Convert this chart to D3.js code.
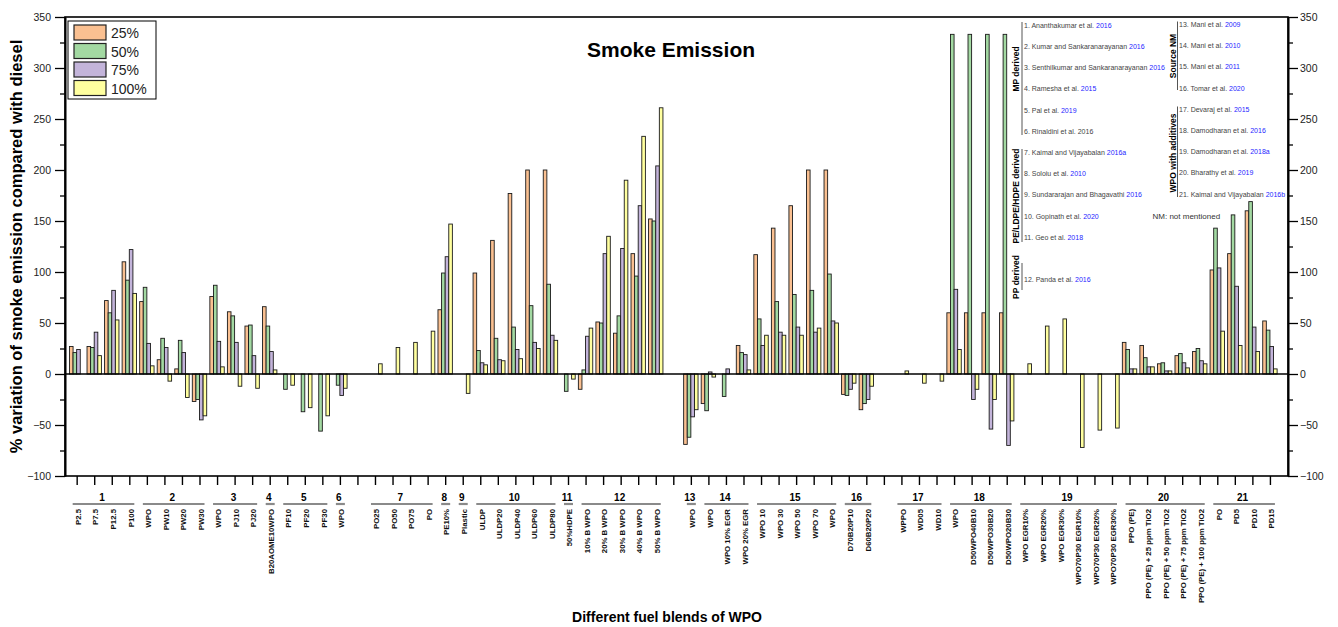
<!DOCTYPE html>
<html>
<head>
<meta charset="utf-8">
<script src="https://cdn.jsdelivr.net/npm/d3@7"></script>
<style>
  body { margin: 0; background: #fff; }
  text { font-family: Arial, "Liberation Sans", sans-serif; }
</style>
</head>
<body>
<script>
// categories along the x axis ("" = empty slot)
const categories = [
  "P2.5", "P7.5", "P12.5", "P100",
  "WPO", "PW10", "PW20", "PW30",
  "WPO", "PJ10", "PJ20",
  "B20AOME10WPO",
  "PF10", "PF20", "PF30",
  "WPO", "",
  "PO25", "PO50", "PO75", "PO",
  "PE10%", "Plastic",
  "ULDP", "ULDP20", "ULDP40", "ULDP60", "ULDP80",
  "50%HDPE",
  "10% B WPO", "20% B WPO", "30% B WPO", "40% B WPO", "50% B WPO", "",
  "WPO",
  "WPO", "WPO 10% EGR", "WPO 20% EGR",
  "WPO 10", "WPO 30", "WPO 50", "WPO 70", "WPO",
  "D70B20P10", "D60B20P20", "",
  "WPPO", "WD05", "WD10",
  "WPO", "D50WPO40B10", "D50WPO30B20", "D50WPO20B30",
  "WPO EGR10%", "WPO EGR20%", "WPO EGR30%", "WPO70P30 EGR10%", "WPO70P30 EGR20%", "WPO70P30 EGR30%",
  "PPO (PE)", "PPO (PE) + 25 ppm  TiO2", "PPO (PE) + 50 ppm  TiO2", "PPO (PE) + 75 ppm  TiO2", "PPO (PE) + 100 ppm  TiO2",
  "PO", "PD5", "PD10", "PD15"
];

// study groups under the axis: number, first and last category index
const groupNames = ["1","2","3","4","5","6","7","8","9","10","11","12","13","14","15","16","17","18","19","20","21"];
const groupStart = [0, 4, 8, 11, 12, 15, 17, 21, 22, 23, 28, 29, 35, 36, 39, 44, 47, 50, 54, 60, 65];
const groupEnd   = [3, 7, 10, 11, 14, 15, 20, 21, 22, 27, 28, 33, 35, 38, 43, 45, 49, 53, 59, 64, 68];

const seriesNames = ["25%", "50%", "75%", "100%"];
const seriesColors = ["#FAC091", "#A3D9A2", "#C3B4DA", "#FFFF9F"];

const v25 = [27, 27, 72, 110, 71, 14, 5, -27, 76, 61, 47, 66, null, null, null, null, null,
  null, null, null, null, 63, null, 99, 131, 177, 200, 200, null, -15, 51, 40, 118, 152, null,
  -69, -29, null, 28, 117, 143, 165, 200, 200, -20, -35, null, null, null, null,
  60, 60, 60, 60, null, null, null, null, null, null, 31, 28, 10, 18, 22, 102, 118, 160, 52];
const v50 = [21, 26, 60, 92, 85, 35, 33, -25, 87, 57, 48, 47, -15, -37, -56, -11, null,
  null, null, null, null, 99, null, 23, 35, 46, 67, 88, -17, 4, 50, 57, 96, 150, null,
  -62, -36, -22, 21, 54, 71, 78, 82, 98, -21, -29, null, null, null, null,
  333, 333, 333, 333, null, null, null, null, null, null, 24, 16, 11, 20, 25, 143, 156, 169, 43];
const v75 = [24, 41, 82, 122, 30, 26, 21, -45, 32, 31, 18, 22, null, null, null, -21, null,
  null, null, null, null, 115, null, 11, 14, 24, 31, 38, null, 37, 118, 123, 165, 204, null,
  -42, 2, 5, 19, 28, 41, 46, 41, 52, -15, -25, null, null, null, null,
  83, -25, -54, -70, null, null, null, null, null, null, 5, 7, 3, 11, 13, 104, 86, 46, 27];
const v100 = [null, 18, 53, 79, 8, -7, -23, -41, 7, -12, -14, 4, -11, -33, -41, -14, null,
  10, 26, 31, 42, 147, -19, 9, 13, 15, 25, 33, -5, 45, 135, 190, 233, 261, null,
  -35, -3, null, 4, 38, 38, 38, 45, 50, -9, -12, null, 3, -9, -7,
  24, -15, -25, -46, 10, 47, 54, -72, -55, -53, 5, 7, 3, 6, 10, 42, 28, 22, 5];
const seriesValues = [v25, v50, v75, v100];

const yTicks = [-100, -50, 0, 50, 100, 150, 200, 250, 300, 350];

// reference notes in the upper right corner
const refAuthors = [
  "1. Ananthakumar et al. ", "2. Kumar and Sankaranarayanan ", "3. Senthilkumar and Sankaranarayanan ",
  "4. Ramesha et al. ", "5. Pal et al. ", "6. Rinaldini et al. 2016", "7. Kaimal and Vijayabalan ",
  "8. Soloiu et al. ", "9. Sundararajan and Bhagavathi ", "10. Gopinath et al. ", "11. Geo et al. ",
  "12. Panda et al. ", "13. Mani et al. ", "14. Mani et al. ", "15. Mani et al. ", "16. Tomar et al. ",
  "17. Devaraj et al. ", "18. Damodharan et al. ", "19. Damodharan et al. ", "20. Bharathy et al. ",
  "21. Kaimal and Vijayabalan "
];
const refYears = ["2016", "2016", "2016", "2015", "2019", "", "2016a", "2010", "2016", "2020", "2018",
  "2016", "2009", "2010", "2011", "2020", "2015", "2016", "2018a", "2019", "2016b"];

const width = 1338, height = 627;
const margin = { left: 65, right: 50, top: 17, bottom: 151 };

const svg = d3.select("body").append("svg")
  .attr("width", width)
  .attr("height", height);

const x = d3.scaleLinear()
  .domain([-0.665, 69.03])
  .range([margin.left, width - margin.right]);

const y = d3.scaleLinear()
  .domain([-100, 350])
  .range([height - margin.bottom, margin.top]);

// sub slots for the four blend ratios
const sub = d3.scaleBand()
  .domain(seriesNames)
  .range([-0.41, 0.41]);

// bars
seriesNames.forEach((s, si) => {
  const vals = seriesValues[si];
  const pts = vals.map((v, i) => ({ i, v })).filter(d => d.v !== null);
  svg.append("g").selectAll("rect")
    .data(pts)
    .enter()
    .append("rect")
    .attr("x", d => x(d.i + sub(s)))
    .attr("width", d => x(d.i + sub(s) + sub.bandwidth()) - x(d.i + sub(s)))
    .attr("y", d => y(Math.max(0, d.v)))
    .attr("height", d => Math.abs(y(d.v) - y(0)))
    .attr("fill", seriesColors[si])
    .attr("stroke", "#1a1a1a")
    .attr("stroke-width", 0.9);
});

// zero line
svg.append("line")
  .attr("x1", x.range()[0]).attr("x2", x.range()[1])
  .attr("y1", y(0)).attr("y2", y(0))
  .attr("stroke", "#000").attr("stroke-width", 1.6);

// frame
svg.append("rect")
  .attr("x", x.range()[0]).attr("y", y(350))
  .attr("width", x.range()[1] - x.range()[0])
  .attr("height", y(-100) - y(350))
  .attr("fill", "none").attr("stroke", "#000").attr("stroke-width", 1.6);

// y axes
const axisFont = g => g.selectAll("text").attr("font-size", "10.5px").attr("fill", "#222");
svg.append("g")
  .attr("transform", `translate(${x.range()[0]},0)`)
  .call(d3.axisLeft(y).tickValues(yTicks).tickSize(10).tickSizeOuter(0).tickPadding(4))
  .call(axisFont);
svg.append("g")
  .attr("transform", `translate(${x.range()[0]},0)`)
  .call(d3.axisLeft(y).tickValues(d3.range(-75, 350, 50)).tickSize(5).tickFormat("").tickSizeOuter(0));
svg.append("g")
  .attr("transform", `translate(${x.range()[1]},0)`)
  .call(d3.axisRight(y).tickValues(yTicks).tickSize(10).tickSizeOuter(0).tickPadding(2))
  .call(axisFont);
svg.append("g")
  .attr("transform", `translate(${x.range()[1]},0)`)
  .call(d3.axisRight(y).tickValues(d3.range(-75, 350, 50)).tickSize(5).tickFormat("").tickSizeOuter(0));
svg.selectAll(".domain").attr("stroke-width", 1.6);
svg.selectAll(".tick line").attr("stroke-width", 1.3);

// x axis ticks
svg.append("g")
  .attr("transform", `translate(0,${y(-100)})`)
  .call(d3.axisBottom(x).tickValues(d3.range(categories.length)).tickSize(9).tickFormat("").tickSizeOuter(0))
  .call(g => g.select(".domain").remove())
  .call(g => g.selectAll(".tick line").attr("stroke-width", 1.4));

// category labels
svg.append("g").selectAll("text")
  .data(categories)
  .enter()
  .append("text")
  .attr("transform", (d, i) => `translate(${x(i) + 1.5},509) rotate(-90)`)
  .attr("text-anchor", "end")
  .attr("dy", "0.35em")
  .attr("font-size", "7.8px")
  .attr("font-weight", "bold")
  .attr("fill", "#111")
  .text(d => d);

// group brackets
groupNames.forEach((g, k) => {
  const x0 = x(groupStart[k]) - 4, x1 = x(groupEnd[k]) + 5;
  svg.append("line")
    .attr("x1", x0).attr("x2", x1).attr("y1", 504).attr("y2", 504)
    .attr("stroke", "#8a8a8a").attr("stroke-width", 2.2);
  svg.append("text")
    .attr("x", (x(groupStart[k]) + x(groupEnd[k])) / 2 - 1)
    .attr("y", 501)
    .attr("text-anchor", "middle")
    .attr("font-size", "10px").attr("font-weight", "bold")
    .text(g);
});

// titles
svg.append("text")
  .attr("x", 671).attr("y", 57)
  .attr("text-anchor", "middle")
  .attr("font-size", "21px").attr("font-weight", "bold")
  .text("Smoke Emission");

svg.append("text")
  .attr("x", 667).attr("y", 622)
  .attr("text-anchor", "middle")
  .attr("font-size", "14px").attr("font-weight", "bold")
  .text("Different fuel blends of WPO");

svg.append("text")
  .attr("transform", `translate(22,${(y(350) + y(-100)) / 2}) rotate(-90)`)
  .attr("text-anchor", "middle")
  .attr("font-size", "16.5px").attr("font-weight", "bold")
  .text("% variation of smoke emission compared with diesel");

// legend
const legend = svg.append("g");
legend.append("rect")
  .attr("x", 68).attr("y", 21).attr("width", 88).attr("height", 78)
  .attr("fill", "#fff").attr("stroke", "#000").attr("stroke-width", 1);
seriesNames.forEach((s, si) => {
  const ly = 25 + si * 18.5;
  legend.append("rect")
    .attr("x", 74).attr("y", ly).attr("width", 32).attr("height", 15)
    .attr("fill", seriesColors[si]).attr("stroke", "#222").attr("stroke-width", 1.2);
  legend.append("text")
    .attr("x", 111).attr("y", ly + 13)
    .attr("font-size", "14px").attr("fill", "#222")
    .text(s);
});

// reference notes
const notes = svg.append("g");
function note(k, tx, ty) {
  const t = notes.append("text")
    .attr("x", tx).attr("y", ty).attr("dy", "0.35em")
    .attr("font-size", "7px").attr("fill", "#444");
  t.append("tspan").text(refAuthors[k]);
  t.append("tspan").attr("fill", "#2626ff").text(refYears[k]);
}
for (let k = 0; k < 11; k++) note(k, 1024, 25.3 + k * 21.2);
note(11, 1024, 279.5);
for (let k = 12; k < 21; k++) note(k, 1179, 24.5 + (k - 12) * 21.2);

function bracket(lx, y0, y1, label, tx, ty) {
  notes.append("line")
    .attr("x1", lx).attr("x2", lx).attr("y1", y0).attr("y2", y1)
    .attr("stroke", "#555").attr("stroke-width", 1);
  notes.append("text")
    .attr("transform", `translate(${tx},${ty}) rotate(-90)`)
    .attr("text-anchor", "middle").attr("dy", "0.35em")
    .attr("font-size", "8.5px").attr("font-weight", "bold")
    .text(label);
}
bracket(1022, 22, 135, "MP derived", 1016, 69);
bracket(1022, 149, 242, "PE/LDPE/HDPE derived", 1016, 196);
bracket(1022, 263, 290, "PP derived", 1016, 277);
bracket(1177.5, 21.5, 90, "Source NM", 1173, 56);
bracket(1177.5, 106.5, 197, "WPO with additives", 1173, 153);

notes.append("text")
  .attr("x", 1152.5).attr("y", 216).attr("dy", "0.35em")
  .attr("font-size", "8px").attr("fill", "#333")
  .text("NM: not mentioned");
</script>
</body>
</html>
